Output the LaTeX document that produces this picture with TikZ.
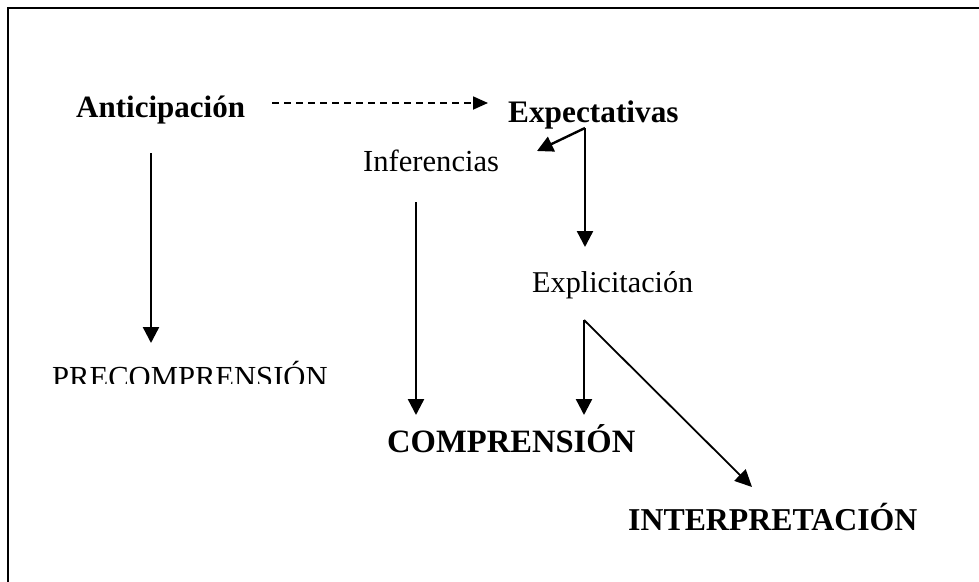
\documentclass[tikz,border=0pt]{standalone}
\usepackage{fontspec}
\setmainfont{Liberation Serif}
\usetikzlibrary{arrows.meta}
\tikzset{
  lbl/.style={inner sep=0pt, anchor=base west},
  arr/.style={line width=2.4pt, -{Triangle[length=16pt,width=16pt]}},
  thinarr/.style={line width=1.8pt, -{Triangle[length=17pt,width=16pt]}},
  dasharr/.style={line width=1.8pt, dash pattern=on 7pt off 5pt, -{Triangle[length=15pt,width=13pt]}},
  frame/.style={line width=2.6pt, line cap=rect}
}
\begin{document}
\begin{tikzpicture}[x=1pt,y=-1pt]
\useasboundingbox (0,0) rectangle (979,581);
% frame
\coordinate (fbl) at (8,581);
\coordinate (ftl) at (8,8);
\coordinate (ftr) at (979,8);
\draw[frame] (fbl) -- (ftl) -- (ftr);
% labels
\node[lbl] (antic) at (76,117) {\fontsize{31}{36}\selectfont\bfseries Anticipación};
\node[lbl] (expec) at (508,122) {\fontsize{31.3}{36}\selectfont\bfseries Expectativas};
\node[lbl] (infer) at (363,171) {\fontsize{30.6}{36}\selectfont Inferencias};
\node[lbl] (expli) at (532,292) {\fontsize{30.2}{36}\selectfont Explicitación};
\begin{scope}
\clip (0,0) rectangle (979,383);
\node[lbl] (precomp) at (52,387) {\fontsize{30.6}{36}\selectfont PRECOMPRENSIÓN};
\end{scope}
\node[lbl] (comp) at (387,452) {\fontsize{32.6}{36}\selectfont\bfseries COMPRENSIÓN};
\node[lbl] (interp) at (628,530) {\fontsize{31.8}{36}\selectfont\bfseries INTERPRETACIÓN};
% arrow endpoints
\coordinate (d1s) at (272,103);
\coordinate (d1e) at (488,103);
\coordinate (a1s) at (151,153);
\coordinate (a1e) at (151,343);
\coordinate (ex0) at (585,128);
\coordinate (exi) at (537,151);
\coordinate (exd) at (585,247);
\coordinate (ins) at (416,202);
\coordinate (ine) at (416,415);
\coordinate (xp0) at (584,320);
\coordinate (xpc) at (584,415);
\coordinate (xpi) at (752,487);
% arrows
\draw[dasharr] (d1s) -- (d1e);
\draw[arr] (a1s) -- (a1e);
\draw[arr] (ex0) -- (exi);
\draw[arr] (ex0) -- (exd);
\draw[arr] (ins) -- (ine);
\draw[arr] (xp0) -- (xpc);
\draw[thinarr] (xp0) -- (xpi);
\end{tikzpicture}
\end{document}
